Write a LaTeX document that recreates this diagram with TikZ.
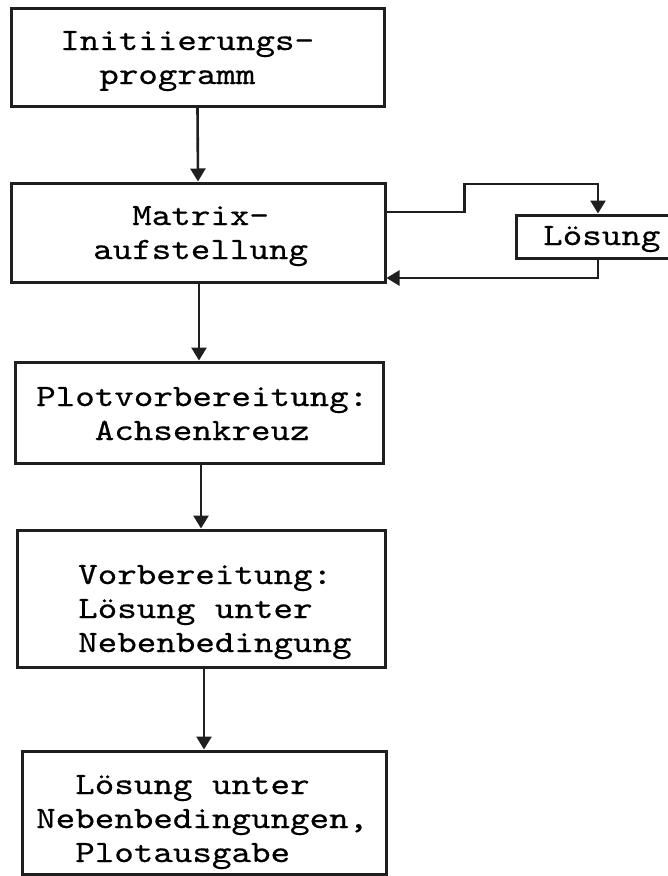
\documentclass[tikz,border=0pt]{standalone}
\usepackage{fontspec}
\newfontfamily\typew{lmmono10-regular}[Extension=.otf,FakeStretch=1.2,FakeBold=0.5]
\usetikzlibrary{arrows.meta}
% multi-line typewriter block, baseline at its first line
\newcommand\lineblock[1]{\begin{tabular}[t]{@{}l@{}}#1\end{tabular}}
\newcommand\ind[1]{\hphantom{#1}}
\begin{document}
\begin{tikzpicture}[x=1pt,y=-1pt,
  box/.style={draw=black!88, line width=3pt, rectangle, inner sep=0pt},
  txt/.style={anchor=base west, inner sep=0pt,
    font=\typew\fontsize{31}{34}\selectfont},
  flow/.style={draw=black!88, line width=2.6pt,
    -{Triangle[width=15pt,length=13pt]}}]
\useasboundingbox (0,0) rectangle (668,876);

% process boxes
\node[box, minimum width=373pt, minimum height=98pt]  (b1) at (197.5,57) {};
\node[box, minimum width=374pt, minimum height=99pt]  (b2) at (198,232.5) {};
\node[box, minimum width=368pt, minimum height=101pt] (b3) at (199,412.5) {};
\node[box, minimum width=368pt, minimum height=137pt] (b4) at (201,598.5) {};
\node[box, minimum width=364pt, minimum height=123pt] (b5) at (204,812.5) {};
\node[box, minimum width=164pt, minimum height=43pt]  (sol) at (598,236.5) {};

% box texts
\node[txt] (t1) at (60,50)  {\lineblock{Initiierungs-\\\ind{xx}programm}};
\node[txt] (t2) at (93,225) {\lineblock{\ind{xx}Matrix-\\aufstellung}};
\node[txt] (t3) at (36,406) {\lineblock{Plotvorbereitung:\\\ind{xxx}Achsenkreuz}};
\node[txt] (t4) at (78,584) {\lineblock{Vorbereitung:\\L\"osung unter\\Nebenbedingung}};
\node[txt] (t5) at (36,794) {\lineblock{\ind{xx}L\"osung unter\\Nebenbedingungen,\\\ind{xx}Plotausgabe}};
\node[txt] (ts) at (543,245) {L\"osung};

% main flow
\draw[flow] (b1.south) -- (b2.north);
\draw[flow] (b2.south -| b3.north) -- (b3.north);
\draw[flow] (b3.south -| b4.north) -- (b4.north);
\draw[flow] (b4.south -| b5.north) -- (b5.north);

% side loop through the solver
\draw[flow] ([yshift=20.5pt]b2.east) -- ++(78,0) -- ++(0,-28) -| (sol.north);
\draw[flow] (sol.south) |- ([yshift=-45.5pt]b2.east);
\end{tikzpicture}
\end{document}
